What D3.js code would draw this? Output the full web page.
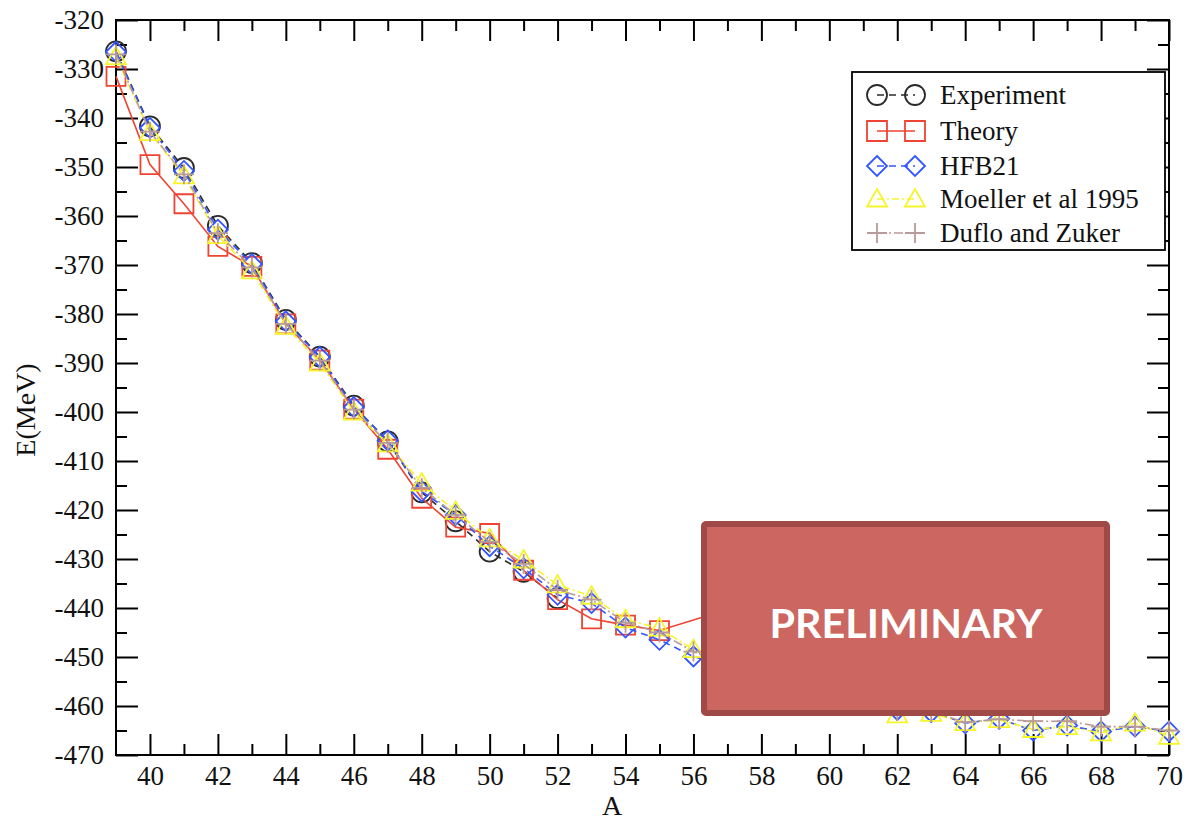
<!DOCTYPE html>
<html>
<head>
<meta charset="utf-8">
<script src="https://cdn.jsdelivr.net/npm/d3@7"></script>
<style>
  body { margin: 0; background: #fff; }
  text { font-family: "Liberation Serif", "DejaVu Serif", serif; fill: #111; }
  .tick line { stroke: #000; stroke-width: 2; }
</style>
</head>
<body>
<svg width="1186" height="822"></svg>
<script>
var width = 1186;
var height = 822;
var serif = "'Liberation Serif', 'DejaVu Serif', serif";

// mass numbers
var massA = [39,40,41,42,43,44,45,46,47,48,49,50,51,52,53,54,55,56,57,58,59,60,61,62,63,64,65,66,67,68,69,70];

// Experiment (A = 39..52)
var expA = [39,40,41,42,43,44,45,46,47,48,49,50,51,52];
var experiment = [-326.4,-341.7,-350.2,-362.0,-369.6,-381.2,-388.7,-398.7,-406.0,-416.4,-422.3,-428.5,-432.6,-438.0];

// Theory
var theoryA = [39,40,41,42,43,44,45,46,47,48,49,50,51,52,53,54,55,57];
var theory = [-331.5,-349.5,-357.5,-366.2,-370.3,-382.0,-389.4,-399.4,-407.6,-417.6,-423.5,-424.8,-432.3,-438.3,-442.2,-443.5,-444.6,-440.3];

// HFB21, Moeller et al 1995, Duflo and Zuker (A = 39..70)
var hfb21 = [-326.5,-342.0,-350.8,-362.8,-369.8,-381.5,-388.8,-399.0,-405.8,-416.2,-421.0,-427.4,-431.9,-437.3,-439.0,-444.0,-446.5,-449.9,
             -452.0,-454.3,-456.2,-457.6,-458.6,-460.8,-461.2,-463.5,-462.6,-465.0,-464.0,-465.2,-464.2,-465.2];
var moeller = [-327.5,-343.0,-351.8,-364.0,-371.2,-382.5,-390.0,-400.0,-406.5,-414.5,-420.3,-425.9,-430.2,-435.3,-437.6,-442.4,-444.1,-448.5,
               -451.5,-453.8,-455.9,-457.4,-458.5,-461.8,-461.5,-463.4,-462.8,-464.8,-464.2,-465.5,-463.5,-466.2];
var dufloZuker = [-327.0,-342.8,-351.5,-363.5,-370.5,-382.0,-389.5,-399.5,-406.3,-415.5,-421.0,-426.5,-431.0,-436.3,-438.3,-443.0,-445.0,-448.9,
                  -451.8,-454.0,-456.0,-457.5,-458.5,-461.0,-461.2,-463.3,-462.7,-463.1,-463.1,-464.2,-464.2,-465.0];

var xTicks = [40,42,44,46,48,50,52,54,56,58,60,62,64,66,68,70];
var yTicks = [-470,-460,-450,-440,-430,-420,-410,-400,-390,-380,-370,-360,-350,-340,-330,-320];

var svg = d3.select("svg");

var x = d3.scaleLinear().domain([39, 70]).range([116, 1169]);
var y = d3.scaleLinear().domain([-470, -320]).range([755, 20]);

// marker shapes
function marker(type, s) {
  if (type == "circle") return "M" + (-s) + ",0a" + s + "," + s + " 0 1,0 " + (2*s) + ",0a" + s + "," + s + " 0 1,0 " + (-2*s) + ",0Z";
  if (type == "square") return "M" + (-s) + "," + (-s) + "h" + (2*s) + "v" + (2*s) + "h" + (-2*s) + "Z";
  if (type == "diamond") return "M0," + (-s) + "L" + s + ",0L0," + s + "L" + (-s) + ",0Z";
  if (type == "triangle") return "M0," + (-s) + "L" + s + "," + (s*0.75) + "L" + (-s) + "," + (s*0.75) + "Z";
  if (type == "plus") return "M" + (-s) + ",0H" + s + "M0," + (-s) + "V" + s;
}

var series = [
  {name: "Experiment", a: expA, v: experiment, color: "#2a2a2a", dash: "7,5", shape: "circle", size: 10},
  {name: "Theory", a: theoryA, v: theory, color: "#ee4433", dash: null, shape: "square", size: 9.5},
  {name: "HFB21", a: massA, v: hfb21, color: "#3355ff", dash: "7,5", shape: "diamond", size: 10},
  {name: "Moeller et al 1995", a: massA, v: moeller, color: "#f5f52a", dash: "7,3,2,3", shape: "triangle", size: 10},
  {name: "Duflo and Zuker", a: massA, v: dufloZuker, color: "#b89a9a", dash: "9,3,2,3", shape: "plus", size: 10}
];

var line = d3.line().x(function(d){ return x(d[0]); }).y(function(d){ return y(d[1]); });

function tidy(g) {
  g.select(".domain").remove();
  g.attr("font-family", serif).attr("font-size", 27);
  g.selectAll("text").style("font-family", serif).style("font-size", "27px").style("fill", "#111");
}

// Axes
var axes = svg.append("g").attr("id", "axes");

axes.append("g").attr("transform", "translate(0,755)")
  .call(d3.axisBottom(x).tickValues(xTicks).tickSize(-21).tickPadding(11).tickFormat(function(d){ return d; }))
  .call(tidy);
axes.append("g").attr("transform", "translate(0,755)")
  .call(d3.axisBottom(x).tickValues(d3.range(41, 70, 2)).tickSize(-11).tickFormat(""))
  .call(tidy);
axes.append("g").attr("transform", "translate(0,20)")
  .call(d3.axisTop(x).tickValues(xTicks).tickSize(-21).tickFormat(""))
  .call(tidy);
axes.append("g").attr("transform", "translate(0,20)")
  .call(d3.axisTop(x).tickValues(d3.range(41, 70, 2)).tickSize(-11).tickFormat(""))
  .call(tidy);

axes.append("g").attr("transform", "translate(116,0)")
  .call(d3.axisLeft(y).tickValues(yTicks).tickSize(-22).tickPadding(12).tickFormat(function(d){ return String(d); }))
  .call(tidy);
axes.append("g").attr("transform", "translate(116,0)")
  .call(d3.axisLeft(y).tickValues(d3.range(-465, -320, 10)).tickSize(-11).tickFormat(""))
  .call(tidy);
axes.append("g").attr("transform", "translate(1169,0)")
  .call(d3.axisRight(y).tickValues(yTicks).tickSize(-22).tickFormat(""))
  .call(tidy);
axes.append("g").attr("transform", "translate(1169,0)")
  .call(d3.axisRight(y).tickValues(d3.range(-465, -320, 10)).tickSize(-11).tickFormat(""))
  .call(tidy);

axes.append("rect").attr("x", 116).attr("y", 20).attr("width", 1169 - 116).attr("height", 735)
  .attr("fill", "none").attr("stroke", "#000").attr("stroke-width", 2);

axes.append("text").text("A").attr("x", 612).attr("y", 815).attr("text-anchor", "middle")
  .style("font-family", serif).style("font-size", "28px");
axes.append("text").text("E(MeV)").attr("transform", "translate(35,410) rotate(-90)")
  .attr("text-anchor", "middle").style("font-family", serif).style("font-size", "28px");

// Series
var plot = svg.append("g").attr("id", "series");
series.forEach(function(s) {
  var pts = s.a.map(function(a, i){ return [a, s.v[i]]; });
  var g = plot.append("g");
  g.append("path").datum(pts).attr("d", line)
    .attr("fill", "none").attr("stroke", s.color).attr("stroke-width", 1.6)
    .attr("stroke-dasharray", s.dash);
  g.selectAll(".m").data(pts).enter().append("path")
    .attr("class", "m")
    .attr("transform", function(d){ return "translate(" + x(d[0]) + "," + y(d[1]) + ")"; })
    .attr("d", marker(s.shape, s.size))
    .attr("fill", "none").attr("stroke", s.color).attr("stroke-width", 1.8);
});

// Legend
var legend = svg.append("g").attr("id", "legend");
legend.append("rect").attr("x", 852).attr("y", 72).attr("width", 313).attr("height", 178)
  .attr("fill", "#fff").attr("stroke", "#000").attr("stroke-width", 1.8);
var rowY = [95, 131, 166, 199, 233];
series.forEach(function(s, i) {
  var ly = rowY[i];
  legend.append("line").attr("x1", 877).attr("x2", 915).attr("y1", ly).attr("y2", ly)
    .attr("stroke", s.color).attr("stroke-width", 1.6).attr("stroke-dasharray", s.dash);
  [877, 915].forEach(function(mx) {
    legend.append("path").attr("transform", "translate(" + mx + "," + ly + ")")
      .attr("d", marker(s.shape, 10)).attr("fill", "none").attr("stroke", s.color).attr("stroke-width", 1.8);
  });
  legend.append("text").text(s.name).attr("x", 940).attr("y", ly + 9)
    .style("font-family", serif).style("font-size", "27px");
});

// Preliminary banner
var banner = svg.append("g").attr("id", "banner");
banner.append("rect").attr("x", 704).attr("y", 524).attr("width", 403).attr("height", 189).attr("rx", 2)
  .attr("fill", "#cc6660").attr("stroke", "#9f4a46").attr("stroke-width", 6);
banner.append("text").text("PRELIMINARY").attr("x", 906).attr("y", 638).attr("text-anchor", "middle")
  .attr("textLength", 273).attr("lengthAdjust", "spacingAndGlyphs")
  .style("font-family", "Lato, 'Open Sans', sans-serif").style("font-weight", "bold")
  .style("font-size", "41px").style("fill", "#fff");
</script>
</body>
</html>
